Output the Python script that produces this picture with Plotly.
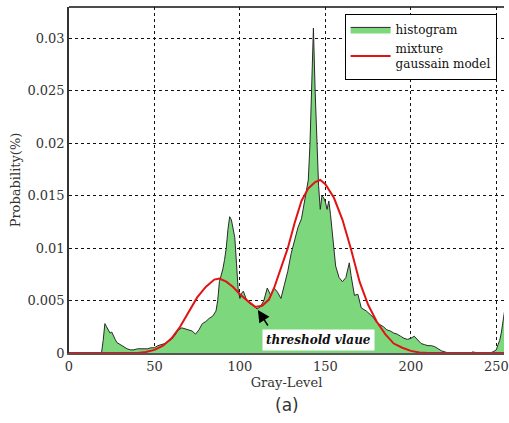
import plotly.graph_objects as go

# Histogram (gray level, probability)
hist_x = [0, 19, 20, 21, 22, 23, 24, 25, 26, 27, 28, 30, 32, 34, 36, 38, 40, 42, 44, 46, 48, 50,
          52, 54, 56, 58, 60, 62, 64, 66, 68, 70, 72, 74, 76, 78, 80, 82, 84, 86, 87, 88, 90, 91,
          92, 93, 94, 95, 96, 97, 98, 99, 100, 101, 102, 103, 104, 106, 108, 110, 112, 114, 116,
          118, 120, 122, 124, 126, 128, 130, 132, 134, 136, 138, 139, 140, 141, 142, 143, 144,
          145, 146, 147, 148, 149, 150, 151, 152, 153, 154, 155, 156, 158, 160, 162, 164, 165,
          167, 169, 171, 174, 176, 178, 180, 182, 184, 186, 188, 190, 192, 194, 196, 198, 200,
          202, 204, 206, 208, 210, 212, 214, 216, 218, 220, 222, 235, 236, 240, 246, 248, 250,
          251, 252, 253, 254, 255]
hist_y = [0, 0, 0.0012, 0.0028, 0.0025, 0.0022, 0.0019, 0.0020, 0.0016, 0.0013, 0.0010, 0.0008,
          0.0006, 0.0004, 0.0003, 0.0003, 0.0004, 0.0004, 0.0004, 0.0004, 0.0005, 0.0005, 0.0007,
          0.0008, 0.0009, 0.0011, 0.0013, 0.0017, 0.0022, 0.0024, 0.0023, 0.0022, 0.0021, 0.0018,
          0.0022, 0.0028, 0.0030, 0.0033, 0.0035, 0.0040, 0.0050, 0.0068, 0.0080, 0.0089, 0.0100,
          0.0118, 0.0130, 0.0127, 0.0120, 0.0110, 0.0085, 0.0060, 0.0052, 0.0057, 0.0059, 0.0054,
          0.0050, 0.0047, 0.0045, 0.0042, 0.0044, 0.0050, 0.0062, 0.0055, 0.0062, 0.0058, 0.0052,
          0.0065, 0.0078, 0.0095, 0.0108, 0.0120, 0.0128, 0.0146, 0.0155, 0.0165, 0.0200, 0.0250,
          0.0310, 0.0250, 0.0200, 0.0160, 0.0137, 0.0150, 0.0148, 0.0144, 0.0137, 0.0145, 0.0132,
          0.0115, 0.0098, 0.0083, 0.0072, 0.0068, 0.0072, 0.0086, 0.0074, 0.0055, 0.0056, 0.0043,
          0.0040, 0.0037, 0.0034, 0.0029, 0.0027, 0.0025, 0.0022, 0.0021, 0.0019, 0.0018, 0.0016,
          0.0014, 0.0013, 0.0014, 0.0016, 0.0012, 0.0009, 0.0008, 0.0007, 0.0007, 0.0006, 0.0004,
          0.0002, 0.0001, 0, 0, 0.0001, 0, 0, 0.0001, 0.0003, 0.0008, 0.0012, 0.0020, 0.0030,
          0.0042, 0.0052]

# Mixture gaussian model curve
gmm_x = [0, 40, 45, 50, 55, 60, 65, 70, 75, 80, 85, 88, 92, 96, 100, 105, 109, 113, 117, 120,
         124, 128, 132, 136, 140, 144, 147, 150, 155, 160, 165, 170, 175, 180, 185, 190, 195,
         200, 205, 210, 255]
gmm_y = [0, 0, 0.0001, 0.0003, 0.0007, 0.0014, 0.0025, 0.0039, 0.0053, 0.0063, 0.0070, 0.0071,
         0.0068, 0.0063, 0.0056, 0.0049, 0.0044, 0.0045, 0.0051, 0.0062, 0.0080, 0.0100, 0.0124,
         0.0145, 0.0157, 0.0163, 0.0165, 0.0161, 0.0148, 0.0127, 0.0099, 0.0068, 0.0046, 0.0030,
         0.0018, 0.0009, 0.0005, 0.0002, 0.00005, 0, 0]

x_ticks = [0, 50, 100, 150, 200, 250]
y_ticks = [0, 0.005, 0.01, 0.015, 0.02, 0.025, 0.03]
y_tick_labels = ["0", "0.005", "0.01", "0.015", "0.02", "0.025", "0.03"]

serif = "DejaVu Serif"

fig = go.Figure()
fig.add_trace(go.Scatter(
    x=hist_x, y=hist_y, mode="lines", fill="tozeroy",
    fillcolor="#7dd87d", line=dict(color="#2a2a2a", width=1),
    name="histogram",
))
fig.add_trace(go.Scatter(
    x=gmm_x, y=gmm_y, mode="lines",
    line=dict(color="#e01414", width=2),
    name="mixture<br>gaussain model",
))

fig.update_layout(
    width=509, height=423,
    margin=dict(l=69, r=0, t=7, b=70),
    paper_bgcolor="white", plot_bgcolor="white",
    font=dict(family=serif, size=13, color="#333333"),
    showlegend=True,
    legend=dict(
        x=0.983, y=0.98, xanchor="right", yanchor="top",
        bgcolor="white", bordercolor="black", borderwidth=1,
        font=dict(family=serif, size=12, color="#111111"),
        itemwidth=40, tracegroupgap=0,
    ),
    xaxis=dict(
        range=[0, 254.5], tickvals=x_ticks, ticktext=[str(v) for v in x_ticks],
        ticklabeloverflow="allow",
        showgrid=True, gridcolor="#111111", gridwidth=1, griddash="3px,3px",
        showline=True, linecolor="#555555", linewidth=2, mirror=False,
        zeroline=False, ticks="", tickfont=dict(family=serif, size=13, color="#333333"),
        title=dict(text="Gray-Level", font=dict(family=serif, size=13, color="#333333"), standoff=5),
    ),
    yaxis=dict(
        range=[0, 0.033], tickvals=y_ticks, ticktext=y_tick_labels,
        showgrid=True, gridcolor="#111111", gridwidth=1, griddash="3px,3px",
        showline=True, linecolor="#333333", linewidth=1.5, mirror=False,
        zeroline=False, ticks="", tickfont=dict(family=serif, size=13, color="#333333"),
        title=dict(text="Probability(%)", font=dict(family=serif, size=13, color="#333333"), standoff=4),
    ),
)

# top frame line
fig.add_shape(type="line", xref="paper", yref="paper", x0=0, x1=1, y0=1, y1=1,
              line=dict(color="#111111", width=1.5))

# threshold annotation
fig.add_annotation(
    x=146, y=0.0012, xref="x", yref="y", text="<b><i>threshold vlaue</i></b>",
    showarrow=False, bgcolor="white", borderpad=3,
    font=dict(family=serif, size=12, color="#111111"),
)
fig.add_annotation(
    x=110.5, y=0.0041, xref="x", yref="y", ax=11, ay=17, axref="pixel", ayref="pixel",
    text="", showarrow=True, arrowhead=2, arrowsize=1.6, arrowwidth=1.5, arrowcolor="black",
)

# caption
fig.add_annotation(
    x=0.5, y=-0.15, xref="paper", yref="paper", text="(a)", showarrow=False,
    yanchor="middle", font=dict(family="DejaVu Sans, Arial, sans-serif", size=17, color="#333333"),
)

fig.write_html("out.html")
